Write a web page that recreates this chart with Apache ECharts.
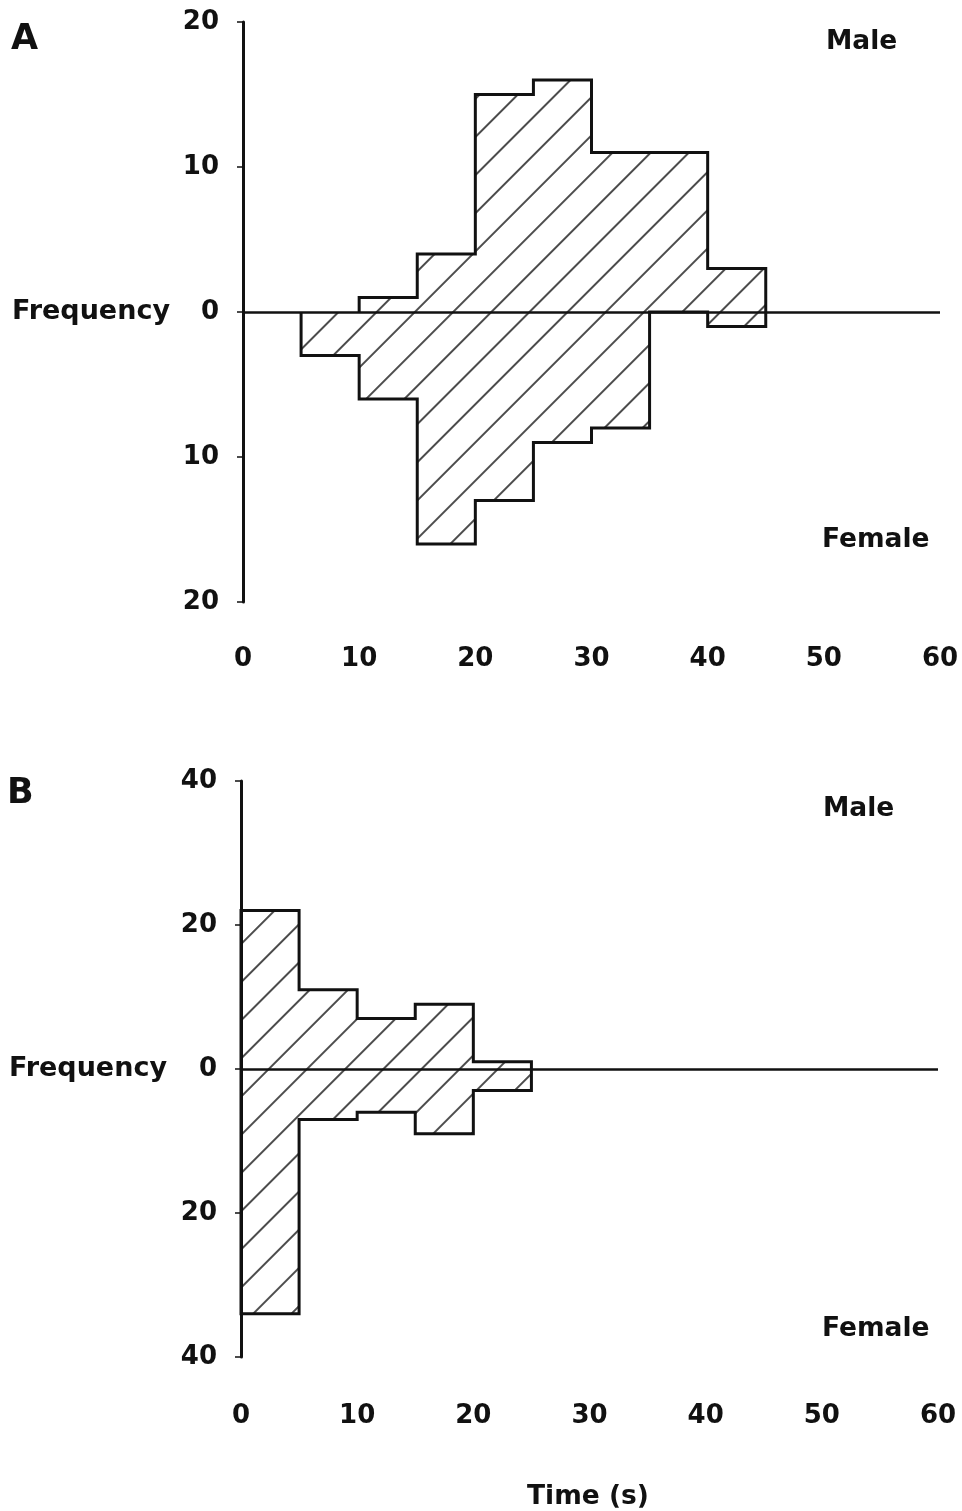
<!DOCTYPE html>
<html>
<head>
<meta charset="utf-8">
<script src="https://cdn.jsdelivr.net/npm/echarts@6/dist/echarts.min.js"></script>
<style>
html,body{margin:0;padding:0;background:#fff;}
#chart{width:962px;height:1511px;}
</style>
</head>
<body>
<div id="chart"></div>
<script>
// ---- data ----
const timeTicks = [0, 10, 20, 30, 40, 50, 60];
const binWidth = 5;
// Panel A
const maleStartA = 10;
const maleA = [1, 4, 15, 16, 11, 11, 3];
const femaleStartA = 5;
const femaleA = [3, 6, 16, 13, 9, 8, 0, 1];
const yTicksA = [20, 10, 0, 10, 20];
// Panel B
const maleStartB = 0;
const maleB = [22, 11, 7, 9, 1];
const femaleStartB = 0;
const femaleB = [34, 7, 6, 9, 3];
const yTicksB = [40, 20, 0, 20, 40];

// build stepped outline from bins
function outline(start, counts, sign) {
  const pts = [[start, 0]];
  counts.forEach(function (c, i) {
    const x0 = start + i * binWidth;
    pts.push([x0, sign * c], [x0 + binWidth, sign * c]);
  });
  pts.push([start + counts.length * binWidth, 0]);
  return pts;
}

const FONT = 'DejaVu Sans';
const INK = '#111';

const decal = {
  symbol: 'rect',
  symbolSize: 1,
  color: '#000',
  dashArrayX: [1, 0],
  dashArrayY: [2, 25],
  rotation: -Math.PI / 4
};

function histSeries(pts, gi, withZero) {
  const s = {
    type: 'line',
    xAxisIndex: gi,
    yAxisIndex: gi,
    data: pts,
    showSymbol: false,
    symbol: 'none',
    silent: true,
    animation: false,
    lineStyle: { color: INK, width: 3, join: 'miter' },
    itemStyle: { color: INK, decal: decal },
    areaStyle: { color: 'transparent', origin: 0 },
    z: 3
  };
  if (withZero) {
    s.markLine = {
      silent: true,
      symbol: ['none', 'none'],
      label: { show: false },
      lineStyle: { color: INK, width: 2.5, type: 'solid' },
      data: [{ yAxis: 0 }],
      animation: false
    };
  }
  return s;
}

function xAxisCfg(gi, margin) {
  return {
    type: 'value', gridIndex: gi, min: timeTicks[0], max: timeTicks[timeTicks.length - 1], interval: 10,
    axisLine: { show: false, onZero: false }, axisTick: { show: false }, splitLine: { show: false },
    axisLabel: { margin: margin, color: INK, fontFamily: FONT, fontWeight: 'bold', fontSize: 26 }
  };
}
function yAxisCfg(gi, ticks, gap) {
  const mx = ticks[0];
  return {
    type: 'value', gridIndex: gi, min: -mx, max: mx, interval: mx / 2,
    name: 'Frequency', nameLocation: 'middle', nameRotate: 0, nameGap: gap,
    nameTextStyle: { color: INK, fontFamily: FONT, fontWeight: 'bold', fontSize: 27, align: 'right', verticalAlign: 'middle' },
    axisLine: { show: true, lineStyle: { color: INK, width: 3 } },
    axisTick: { show: true, length: 6, lineStyle: { color: INK, width: 1.5 } },
    splitLine: { show: false },
    axisLabel: { margin: 24, color: INK, fontFamily: FONT, fontWeight: 'bold', fontSize: 26,
      formatter: function (v) { return String(Math.abs(v)); } }
  };
}

function txt(text, x, y, size, align) {
  return { type: 'text', x: x, y: y, silent: true,
    style: { text: text, fill: INK, font: 'bold ' + size + 'px "' + FONT + '"', textAlign: align || 'left', textVerticalAlign: 'middle' } };
}

const chart = echarts.init(document.getElementById('chart'), null, { renderer: 'canvas' });
chart.setOption({
  backgroundColor: '#fff',
  animation: false,
  grid: [
    { left: 243, top: 22, width: 697, height: 580 },
    { left: 241, top: 781, width: 697, height: 576 }
  ],
  xAxis: [xAxisCfg(0, 44), xAxisCfg(1, 46)],
  yAxis: [yAxisCfg(0, yTicksA, 73), yAxisCfg(1, yTicksB, 74)],
  series: [
    histSeries(outline(maleStartA, maleA, 1), 0, true),
    histSeries(outline(femaleStartA, femaleA, -1), 0, false),
    histSeries(outline(maleStartB, maleB, 1), 1, true),
    histSeries(outline(femaleStartB, femaleB, -1), 1, false)
  ],
  graphic: [
    txt('A', 11, 40, 35),
    txt('B', 7, 794, 35),
    txt('Male', 826, 42, 26.5),
    txt('Female', 822, 540, 26.5),
    txt('Male', 823, 809, 26.5),
    txt('Female', 822, 1329, 26.5),
    txt('Time (s)', 588, 1497, 26.5, 'center')
  ]
});
</script>
</body>
</html>
